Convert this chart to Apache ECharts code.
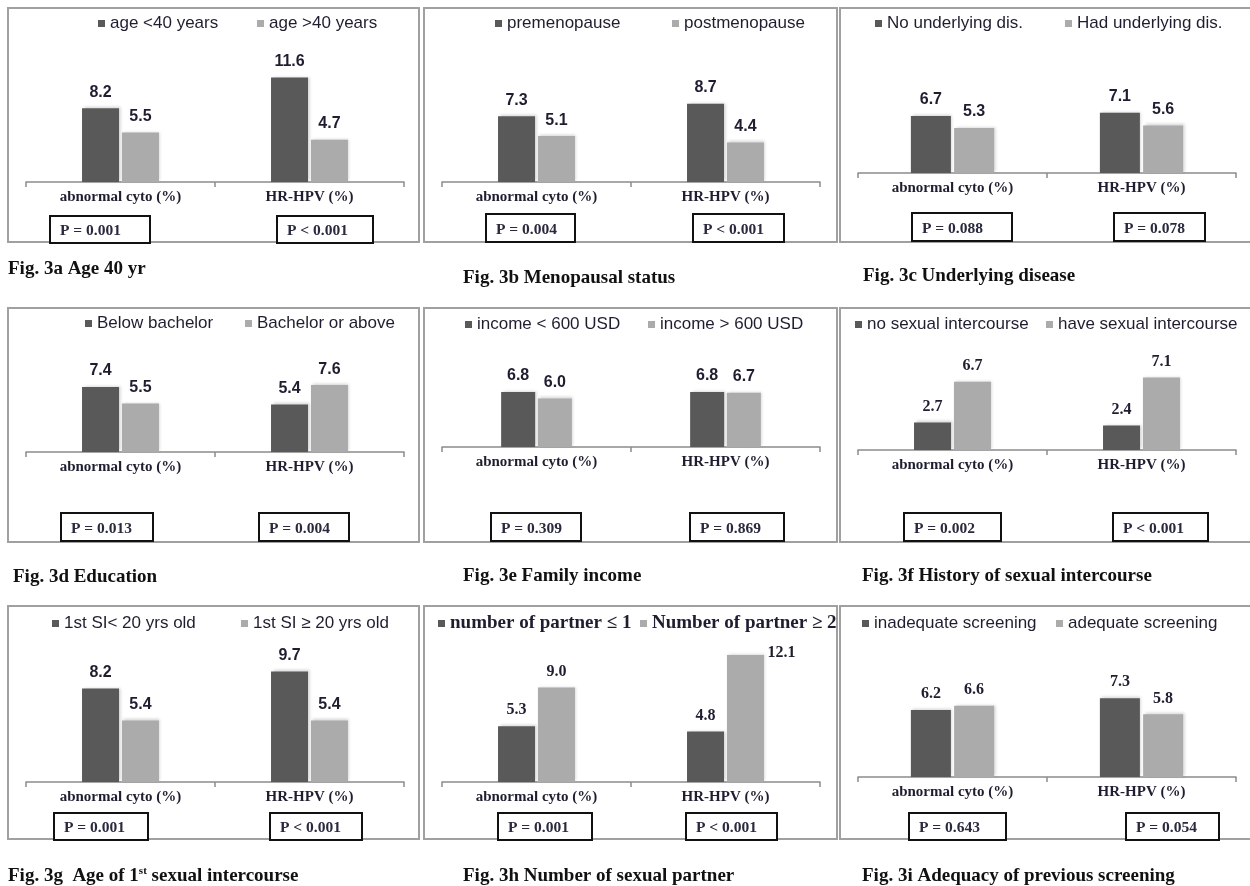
<!DOCTYPE html>
<html>
<head>
<meta charset="utf-8">
<script src="https://cdn.jsdelivr.net/npm/echarts@6/dist/echarts.min.js"></script>
<style>
  html, body { margin: 0; padding: 0; background: #ffffff; }
  #chart { width: 1250px; height: 886px; }
</style>
</head>
<body>
<div id="chart"></div>
<script>
// Shared categories for every small chart
const categories = ['abnormal cyto (%)', 'HR-HPV (%)'];

// Fig. 3a
const groupsA = ['age <40 years', 'age >40 years'];
const darkA = [8.2, 11.6];
const lightA = [5.5, 4.7];
const pA = ['P = 0.001', 'P < 0.001'];
const captionA = 'Fig. 3a Age 40 yr';

// Fig. 3b
const groupsB = ['premenopause', 'postmenopause'];
const darkB = [7.3, 8.7];
const lightB = [5.1, 4.4];
const pB = ['P = 0.004', 'P < 0.001'];
const captionB = 'Fig. 3b Menopausal status';

// Fig. 3c
const groupsC = ['No underlying dis.', 'Had underlying dis.'];
const darkC = [6.7, 7.1];
const lightC = [5.3, 5.6];
const pC = ['P = 0.088', 'P = 0.078'];
const captionC = 'Fig. 3c Underlying disease';

// Fig. 3d
const groupsD = ['Below bachelor', 'Bachelor or above'];
const darkD = [7.4, 5.4];
const lightD = [5.5, 7.6];
const pD = ['P = 0.013', 'P = 0.004'];
const captionD = 'Fig. 3d Education';

// Fig. 3e
const groupsE = ['income < 600 USD', 'income > 600 USD'];
const darkE = [6.8, 6.8];
const lightE = [6.0, 6.7];
const pE = ['P = 0.309', 'P = 0.869'];
const captionE = 'Fig. 3e Family income';

// Fig. 3f
const groupsF = ['no sexual intercourse', 'have sexual intercourse'];
const darkF = [2.7, 2.4];
const lightF = [6.7, 7.1];
const pF = ['P = 0.002', 'P < 0.001'];
const captionF = 'Fig. 3f History of sexual intercourse';

// Fig. 3g
const groupsG = ['1st SI< 20 yrs old', '1st SI \u2265 20 yrs old'];
const darkG = [8.2, 9.7];
const lightG = [5.4, 5.4];
const pG = ['P = 0.001', 'P < 0.001'];
const captionG = 'Fig. 3g  Age of 1{sup|st} sexual intercourse';

// Fig. 3h
const groupsH = ['number of partner \u2264 1', 'Number of partner \u2265 2'];
const darkH = [5.3, 4.8];
const lightH = [9.0, 12.1];
const pH = ['P = 0.001', 'P < 0.001'];
const captionH = 'Fig. 3h Number of sexual partner';

// Fig. 3i
const groupsI = ['inadequate screening', 'adequate screening'];
const darkI = [6.2, 7.3];
const lightI = [6.6, 5.8];
const pI = ['P = 0.643', 'P = 0.054'];
const captionI = 'Fig. 3i Adequacy of previous screening';

const panels = [
  { groups: groupsA, dark: darkA, light: lightA, p: pA, caption: captionA },
  { groups: groupsB, dark: darkB, light: lightB, p: pB, caption: captionB },
  { groups: groupsC, dark: darkC, light: lightC, p: pC, caption: captionC },
  { groups: groupsD, dark: darkD, light: lightD, p: pD, caption: captionD },
  { groups: groupsE, dark: darkE, light: lightE, p: pE, caption: captionE },
  { groups: groupsF, dark: darkF, light: lightF, p: pF, caption: captionF },
  { groups: groupsG, dark: darkG, light: lightG, p: pG, caption: captionG },
  { groups: groupsH, dark: darkH, light: lightH, p: pH, caption: captionH },
  { groups: groupsI, dark: darkI, light: lightI, p: pI, caption: captionI }
];

const SANS = '"Liberation Sans", Arial, sans-serif';
const SERIF = '"Liberation Serif", "Times New Roman", serif';

// Frame placement for each small chart
const layout = [
  { box: [8, 8, 411, 234],   axisY: 182, scale: 9.0,  barW: 37, legend: [[98, 22], [257, 22]],   caption: [8, 268],   pBoxes: [[50, 216, 100, 27], [277, 216, 96, 27]],  labelFont: SANS,  legendFont: SANS },
  { box: [424, 8, 413, 234], axisY: 182, scale: 9.0,  barW: 37, legend: [[495, 22], [672, 22]],  caption: [463, 277], pBoxes: [[486, 214, 89, 28], [693, 214, 91, 28]],  labelFont: SANS,  legendFont: SANS },
  { box: [840, 8, 414, 234], axisY: 173, scale: 8.5,  barW: 40, legend: [[875, 22], [1065, 22]], caption: [863, 275], pBoxes: [[912, 213, 100, 28], [1114, 213, 91, 28]], labelFont: SANS,  legendFont: SANS },
  { box: [8, 308, 411, 234],   axisY: 452, scale: 8.8,  barW: 37, legend: [[85, 322], [245, 322]],  caption: [13, 576],  pBoxes: [[61, 513, 92, 28], [259, 513, 90, 28]],   labelFont: SANS,  legendFont: SANS },
  { box: [424, 308, 413, 234], axisY: 447, scale: 8.1,  barW: 34, legend: [[465, 323], [648, 323]], caption: [463, 575], pBoxes: [[491, 513, 90, 28], [690, 513, 94, 28]],  labelFont: SANS,  legendFont: SANS },
  { box: [840, 308, 414, 234], axisY: 450, scale: 10.2, barW: 37, legend: [[855, 323], [1046, 323]], caption: [862, 575], pBoxes: [[904, 513, 97, 28], [1113, 513, 95, 28]], labelFont: SERIF, legendFont: SANS },
  { box: [8, 606, 411, 233],   axisY: 782, scale: 11.4, barW: 37, legend: [[52, 622], [241, 622]],  caption: [8, 875],   pBoxes: [[54, 813, 94, 27], [270, 813, 92, 27]],   labelFont: SANS,  legendFont: SANS },
  { box: [424, 606, 413, 233], axisY: 782, scale: 10.5, barW: 37, legend: [[438, 622], [640, 622]], caption: [463, 875], pBoxes: [[498, 813, 94, 27], [686, 813, 91, 27]],  labelFont: SERIF, legendFont: SERIF, nudge: { s: 1, i: 1, offset: [36, 14] } },
  { box: [840, 606, 414, 233], axisY: 777, scale: 10.8, barW: 40, legend: [[862, 622], [1056, 622]], caption: [862, 875], pBoxes: [[909, 813, 97, 27], [1126, 813, 93, 27]], labelFont: SERIF, legendFont: SANS }
];

const BAR_COLORS = ['#595959', '#ababab'];
const TEXT_COLOR = '#1e1e30';
const AXIS_COLOR = '#8c8c8c';

const grids = [], xAxes = [], yAxes = [], series = [], legends = [], graphics = [];

panels.forEach((panel, i) => {
  const L = layout[i];
  const top = L.box[1] + 38;
  const height = L.axisY - top;

  grids.push({ left: L.box[0] + 18, top: top, width: 378, height: height });

  xAxes.push({
    gridIndex: i,
    type: 'category',
    data: categories,
    axisLine: { lineStyle: { color: AXIS_COLOR, width: 1.5 } },
    axisTick: { show: true, length: 5, lineStyle: { color: AXIS_COLOR, width: 1.5 } },
    axisLabel: {
      margin: 8,
      color: TEXT_COLOR,
      fontFamily: SERIF,
      fontWeight: 'bold',
      fontSize: 15
    }
  });

  yAxes.push({ gridIndex: i, type: 'value', min: 0, max: height / L.scale, show: false });

  [panel.dark, panel.light].forEach((vals, s) => {
    const data = vals.map((v, k) => {
      if (L.nudge && L.nudge.s === s && L.nudge.i === k) {
        return { value: v, label: { offset: L.nudge.offset } };
      }
      return v;
    });
    series.push({
      type: 'bar',
      name: panel.groups[s],
      xAxisIndex: i,
      yAxisIndex: i,
      data: data,
      barWidth: L.barW,
      barGap: '8%',
      itemStyle: {
        color: BAR_COLORS[s],
        shadowColor: 'rgba(0,0,0,0.18)',
        shadowBlur: 3,
        shadowOffsetX: 1.5,
        shadowOffsetY: -1
      },
      label: {
        show: true,
        position: 'top',
        distance: 8,
        formatter: (p) => Number(p.value).toFixed(1),
        color: TEXT_COLOR,
        fontFamily: L.labelFont,
        fontWeight: 'bold',
        fontSize: 16
      },
      emphasis: { disabled: true }
    });

    const serifLegend = L.legendFont === SERIF;
    legends.push({
      data: [panel.groups[s]],
      left: L.legend[s][0],
      top: L.legend[s][1] - (serifLegend ? 8 : 7),
      padding: 0,
      itemWidth: 7,
      itemHeight: 7,
      icon: 'rect',
      selectedMode: false,
      textStyle: {
        color: TEXT_COLOR,
        fontFamily: L.legendFont,
        fontWeight: serifLegend ? 'bold' : 'normal',
        fontSize: serifLegend ? 19 : 17
      }
    });
  });

  // panel frame
  graphics.push({
    type: 'rect',
    z: 1,
    shape: { x: L.box[0], y: L.box[1], width: L.box[2], height: L.box[3] },
    style: { fill: 'none', stroke: '#a0a0a0', lineWidth: 2 }
  });

  // P-value boxes
  L.pBoxes.forEach((b, k) => {
    graphics.push({
      type: 'rect',
      z: 5,
      shape: { x: b[0], y: b[1], width: b[2], height: b[3] },
      style: { fill: '#ffffff', stroke: '#111111', lineWidth: 2 }
    });
    graphics.push({
      type: 'text',
      z: 6,
      x: b[0] + 10,
      y: b[1] + b[3] * 0.56,
      style: {
        text: panel.p[k],
        fill: '#2a2a3e',
        font: 'bold 15.5px ' + SERIF,
        textVerticalAlign: 'middle',
        textAlign: 'left'
      }
    });
  });

  // figure caption
  graphics.push({
    type: 'text',
    z: 6,
    x: L.caption[0],
    y: L.caption[1] + 1,
    style: {
      text: panel.caption,
      fill: '#111111',
      font: 'bold 19px ' + SERIF,
      textVerticalAlign: 'middle',
      textAlign: 'left',
      rich: {
        sup: { fontSize: 11, fontWeight: 'bold', fontFamily: SERIF, fill: '#111111', padding: [0, 0, 9, 0] }
      }
    }
  });
});

const chart = echarts.init(document.getElementById('chart'), null, { renderer: 'canvas' });
chart.setOption({
  backgroundColor: '#ffffff',
  animation: false,
  grid: grids,
  xAxis: xAxes,
  yAxis: yAxes,
  legend: legends,
  series: series,
  graphic: graphics
});
</script>
</body>
</html>
